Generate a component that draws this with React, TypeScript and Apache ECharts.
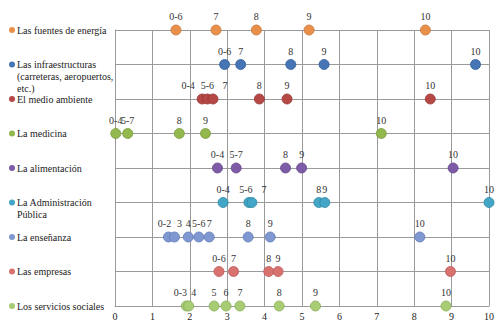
import React, { useEffect, useRef } from "react";
import * as echarts from "echarts";

// Row names, top to bottom
const categories = [
  "Las fuentes de energía",
  "Las infraestructuras\n(carreteras, aeropuertos,\netc.)",
  "El medio ambiente",
  "La medicina",
  "La alimentación",
  "La Administración\nPública",
  "La enseñanza",
  "Las empresas",
  "Los servicios sociales",
];

const xTicks = [0, 1, 2, 3, 4, 5, 6, 7, 8, 9, 10];

// Mean positions per group, with the group label shown above each point
const fuentesValues = [1.63, 2.7, 3.78, 5.19, 8.3];
const fuentesLabels = ["0-6", "7", "8", "9", "10"];

const infraValues = [2.93, 3.36, 4.7, 5.59, 9.64];
const infraLabels = ["0-6", "7", "8", "9", "10"];

const medioValues = [2.33, 2.47, 2.62, 3.86, 4.6, 8.43];
const medioLabels = ["0-4", "5-6", "7", "8", "9", "10"];

const medicinaValues = [0.02, 0.34, 1.72, 2.42, 7.12];
const medicinaLabels = ["0-4", "5-7", "8", "9", "10"];

const alimentacionValues = [2.74, 3.24, 4.56, 4.99, 9.04];
const alimentacionLabels = ["0-4", "5-7", "8", "9", "10"];

const administracionValues = [2.89, 3.58, 3.66, 5.45, 5.61, 10.0];
const administracionLabels = ["0-4", "5-6", "7", "8", "9", "10"];

const ensenanzaValues = [1.43, 1.59, 1.96, 2.24, 2.52, 3.56, 4.15, 8.15];
const ensenanzaLabels = ["0-2", "3", "4", "5-6", "7", "8", "9", "10"];

const empresasValues = [2.78, 3.17, 4.11, 4.36, 8.97];
const empresasLabels = ["0-6", "7", "8", "9", "10"];

const serviciosValues = [1.91, 1.97, 2.65, 2.97, 3.34, 4.39, 5.36, 8.85];
const serviciosLabels = ["0-3", "4", "5", "6", "7", "8", "9", "10"];

const rows = [
  { values: fuentesValues, labels: fuentesLabels },
  { values: infraValues, labels: infraLabels },
  { values: medioValues, labels: medioLabels },
  { values: medicinaValues, labels: medicinaLabels },
  { values: alimentacionValues, labels: alimentacionLabels },
  { values: administracionValues, labels: administracionLabels },
  { values: ensenanzaValues, labels: ensenanzaLabels },
  { values: empresasValues, labels: empresasLabels },
  { values: serviciosValues, labels: serviciosLabels },
];

// Styling
const fills = ["#E8904A", "#4675B5", "#B54745", "#93B84D", "#7E5BA6", "#44A6C6", "#7F98D2", "#D9726F", "#A7CC74"];
const borders = ["#C8733A", "#2F5C99", "#963533", "#779A3A", "#634588", "#2F88A6", "#6079B4", "#B95957", "#88AD56"];
const gridColor = "#9A9A9A";

// Horizontal label nudges (px) that keep crowded labels apart
const labelNudges: Record<number, Record<string, number>> = {
  2: { "0-4": -14, "7": 12 },
  5: { "5-6": -3, "7": 12 },
  6: { "0-2": -4, "3": 5 },
  8: { "0-3": -6, "4": 5 },
};

const FONT = "'Liberation Serif', 'Times New Roman', serif";

function rowLabel(name: string, idx: number): string {
  const lines = name.split("\n");
  const first = `{d${idx}|}{t|${lines[0]}}`;
  const rest = lines.slice(1).map((l) => `{s|}{t|${l}}`);
  const pad = lines.slice(1).map(() => "{s|}");
  return [...pad, first, ...rest].join("\n");
}

export default function App() {
  const ref = useRef<HTMLDivElement>(null);

  useEffect(() => {
    if (!ref.current) return;
    const chart = echarts.init(ref.current, undefined, { renderer: "svg" });

    const rich: Record<string, any> = {
      t: { fontFamily: FONT, fontSize: 10, color: "#222", lineHeight: 12, padding: [0, 0, 0, 2] },
      s: { width: 6, lineHeight: 12 },
    };
    fills.forEach((c, i) => {
      rich["d" + i] = { width: 6, height: 6, borderRadius: 3, backgroundColor: c, lineHeight: 12 };
    });

    const series = rows.map((row, ri) => ({
      type: "scatter",
      name: categories[ri],
      symbol: "circle",
      symbolSize: 10,
      itemStyle: { color: fills[ri], borderColor: borders[ri], borderWidth: 0.8, opacity: 1 },
      data: row.values.map((v, i) => {
        const lab = row.labels[i];
        const nudge = (labelNudges[ri] && labelNudges[ri][lab]) || 0;
        return {
          value: [v, categories[ri]],
          name: lab,
          label: { offset: [nudge, 0] },
        };
      }),
      label: {
        show: true,
        position: "top",
        distance: 3,
        formatter: (p: any) => p.name,
        fontFamily: FONT,
        fontSize: 10,
        color: "#333",
      },
    }));

    chart.setOption({
      animation: false,
      grid: { left: 115, right: 11, top: 30, bottom: 19, containLabel: false },
      xAxis: {
        type: "value",
        min: xTicks[0],
        max: xTicks[xTicks.length - 1],
        interval: 1,
        axisLine: { show: true, lineStyle: { color: gridColor, width: 1 } },
        axisTick: { show: false },
        splitLine: { show: true, lineStyle: { color: gridColor, width: 1 } },
        axisLabel: { fontFamily: FONT, fontSize: 10, color: "#222", margin: 5 },
      },
      yAxis: {
        type: "category",
        data: categories,
        inverse: true,
        boundaryGap: false,
        axisLine: { show: true, lineStyle: { color: gridColor, width: 1 } },
        axisTick: { show: false },
        splitLine: { show: true, lineStyle: { color: gridColor, width: 1 } },
        axisLabel: {
          interval: 0,
          align: "left",
          margin: 106,
          formatter: (value: string, index: number) => rowLabel(value, index),
          rich,
        },
      },
      series,
    });

    return () => chart.dispose();
  }, []);

  return <div ref={ref} style={{ width: 500, height: 325, position: "absolute", left: 0, top: 0 }} />;
}
